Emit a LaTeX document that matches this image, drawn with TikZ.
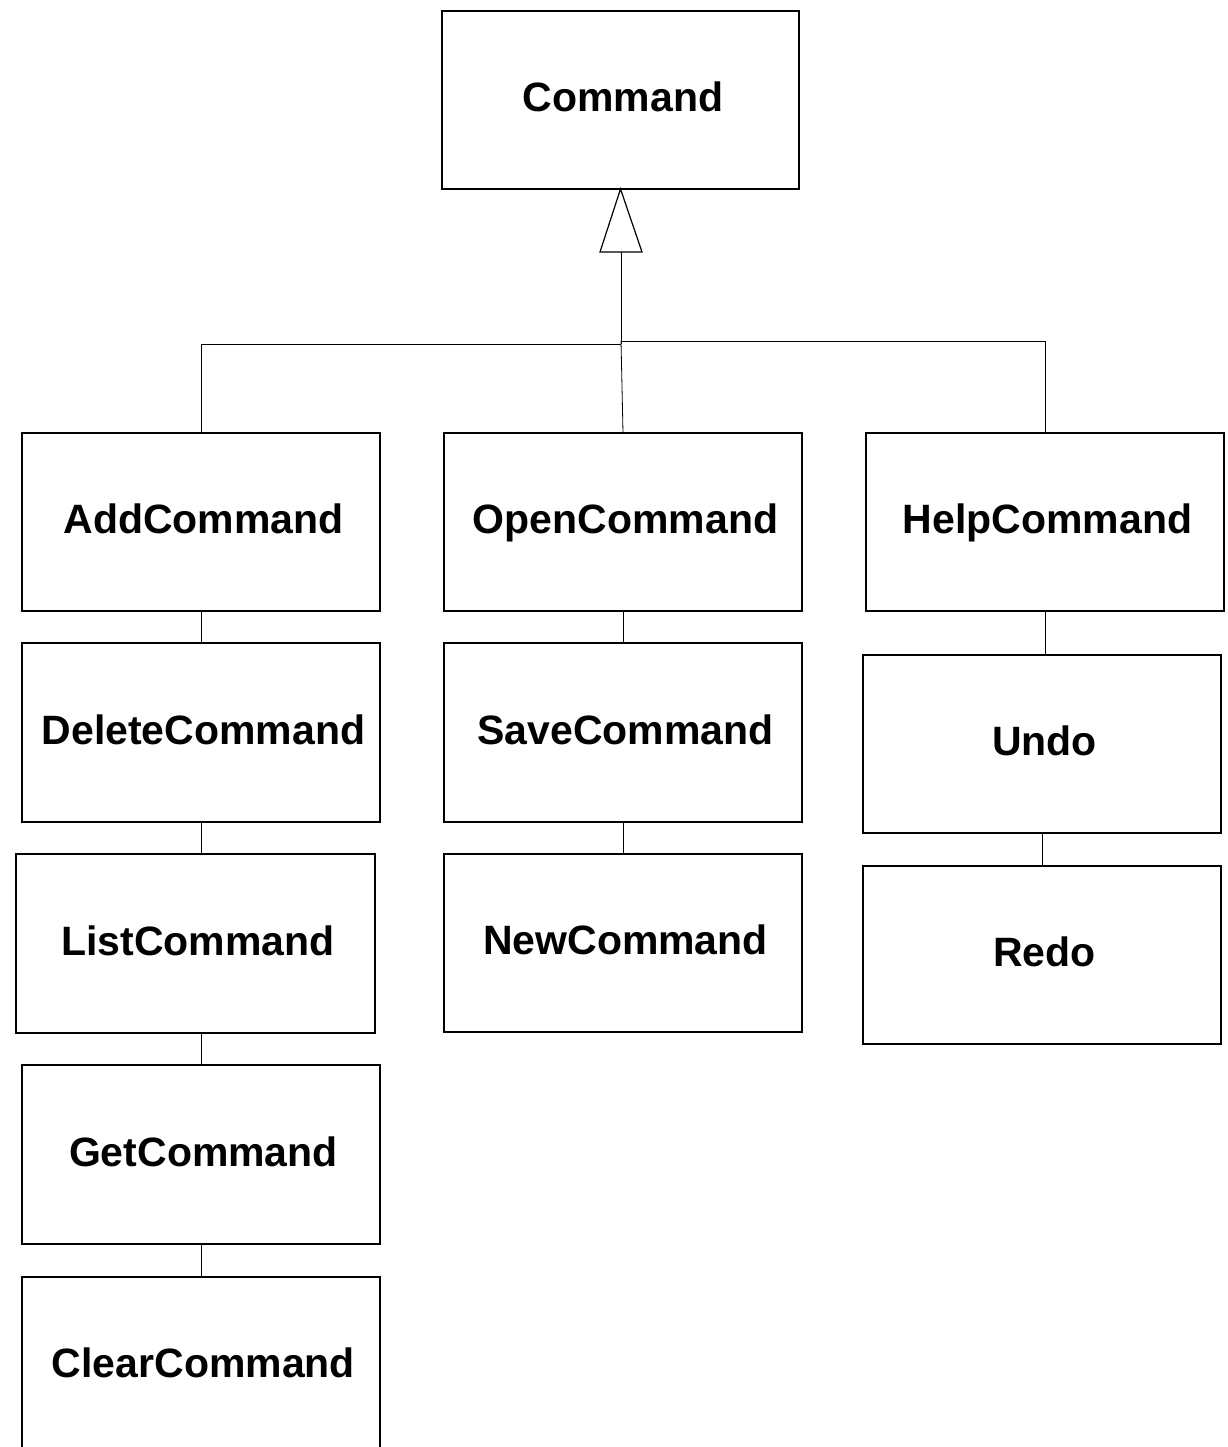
\documentclass[tikz,border=0pt]{standalone}
\usepackage{fontspec}
\setmainfont{Liberation Sans}
\begin{document}
\begin{tikzpicture}[x=1pt,y=-1pt,
  cls/.style={draw=black,line width=1.2pt,fill=white,inner sep=0pt,outer sep=0pt,
    minimum width=358pt,minimum height=178pt,font=\fontsize{41}{45}\selectfont\bfseries,
    text height=29.3pt,text depth=6pt,execute at begin node={\kern5pt}},
  conn/.style={draw=black,line width=0.8pt},
  gen/.style={draw=black,line width=1.2pt,fill=white,line join=miter}]
\useasboundingbox (0,0) rectangle (1227,1447);
\node[cls,minimum width=357pt] (cmd) at (620.5,100) {Command};
\node[cls] (add) at (201,522) {AddCommand};
\node[cls,minimum height=179pt] (del) at (201,732.5) {DeleteCommand};
\node[cls,minimum width=359pt,minimum height=179pt] (list) at (195.5,943.5) {ListCommand};
\node[cls,minimum height=179pt] (get) at (201,1154.5) {GetCommand};
\node[cls] (clear) at (201,1366) {ClearCommand};
\node[cls] (open) at (623,522) {OpenCommand};
\node[cls,minimum height=179pt] (save) at (623,732.5) {SaveCommand};
\node[cls] (new) at (623,943) {NewCommand};
\node[cls] (help) at (1045,522) {HelpCommand};
\node[cls] (undo) at (1042,744) {Undo};
\node[cls] (redo) at (1042,955) {Redo};
% generalization
\coordinate (tb) at (621,252);
\coordinate (jl) at (621,344);
\coordinate (jr) at (621,341);
\draw[conn] (tb) -- (jl);
\draw[conn] (jl) -| (add.north);
\draw[conn] (jr) -| (help.north);
\draw[conn] (jr) -- (open.north);
\draw[gen] (cmd.south) -- (600,252) -- (642,252) -- cycle;
% chains
\draw[conn] (add.south) -- (del.north);
\draw[conn] (del.south) -- (del.south |- list.north);
\draw[conn] (get.north |- list.south) -- (get.north);
\draw[conn] (get.south) -- (clear.north);
\draw[conn] (open.south) -- (save.north);
\draw[conn] (save.south) -- (new.north);
\draw[conn] (help.south) -- (help.south |- undo.north);
\draw[conn] (undo.south) -- (redo.north);
\end{tikzpicture}
\end{document}
